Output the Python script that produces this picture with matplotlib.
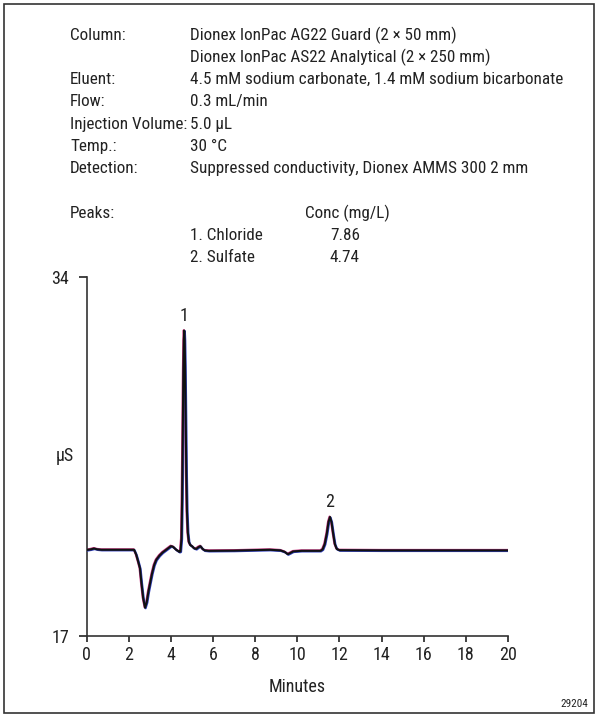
import matplotlib
matplotlib.use('Agg')
import matplotlib.pyplot as plt
import matplotlib.transforms as mtransforms
from matplotlib.patches import Rectangle

plt.rcParams['font.family'] = ['Roboto Condensed', 'DejaVu Sans']

# ===== DATA =====
minutes = [0.0, 0.2, 0.35, 0.5, 0.7, 1.5, 2.25, 2.35, 2.45, 2.53, 2.6, 2.68, 2.77,
           2.85, 2.93, 3.0, 3.1, 3.2, 3.3, 3.45, 3.6, 3.8, 4.0, 4.1, 4.25, 4.4,
           4.45, 4.5, 4.53, 4.56, 4.59, 4.61, 4.63, 4.65, 4.67, 4.7, 4.73, 4.76,
           4.8, 4.85, 4.92, 5.0, 5.1, 5.2, 5.3, 5.4, 5.5, 5.6, 5.8, 7.0, 8.7,
           9.2, 9.4, 9.55, 9.65, 9.8, 10.2, 11.1, 11.2, 11.3, 11.4, 11.48, 11.55,
           11.62, 11.7, 11.78, 11.87, 12.0, 14.0, 17.0, 20.0]
signal = [21.07, 21.1, 21.14, 21.1, 21.08, 21.08, 21.08, 20.85, 20.5, 20.2, 19.5, 18.8, 18.34,
          18.6, 19.1, 19.45, 19.95, 20.35, 20.6, 20.8, 20.95, 21.1, 21.25, 21.22, 21.08, 20.98,
          21.0, 21.6, 23.5, 26.5, 29.6, 31.0, 31.45, 31.0, 29.8, 27.2, 24.6, 22.9,
          21.9, 21.45, 21.3, 21.25, 21.15, 21.12, 21.2, 21.25, 21.12, 21.05, 21.03, 21.04, 21.08,
          21.05, 20.98, 20.87, 20.92, 21.0, 21.03, 21.03, 21.1, 21.35, 21.85, 22.4, 22.63,
          22.4, 21.85, 21.35, 21.12, 21.06, 21.05, 21.05, 21.05]

peak_labels = ['1', '2']
peak_times = [4.63, 11.55]
peak_heights = [31.45, 22.63]

cond_labels = ['Column:', '', 'Eluent:', 'Flow:', 'Injection Volume:', 'Temp.:', 'Detection:']
cond_values = ['Dionex IonPac AG22 Guard (2 \u00d7 50 mm)',
               'Dionex IonPac AS22 Analytical (2 \u00d7 250 mm)',
               '4.5 mM sodium carbonate, 1.4 mM sodium bicarbonate',
               '0.3 mL/min',
               '5.0 \u00b5L',
               '30 \u00b0C',
               'Suppressed conductivity, Dionex AMMS 300 2 mm']
peak_names = ['1. Chloride', '2. Sulfate']
peak_conc = ['7.86', '4.74']

W, H = 598, 717
fig = plt.figure(figsize=(W / 100, H / 100), dpi=100)

# outer frame
fig.patches.append(Rectangle((4 / W, 4 / H), 1 - 8 / W, 1 - 8 / H, transform=fig.transFigure,
                             fill=False, ec='#333333', lw=1.2))

# ===== HEADER TEXT =====
fs = 12.3
tc = '#222222'
x_lab, x_val = 70 / W, 190 / W
row0, dy = 35, 22.3
for i, (lab, val) in enumerate(zip(cond_labels, cond_values)):
    y = 1 - (row0 + i * dy) / H
    fig.text(x_lab, y, lab, fontsize=fs, va='center', color=tc)
    fig.text(x_val, y, val, fontsize=fs, va='center', color=tc)

y_peaks = 1 - (row0 + 8 * dy) / H
fig.text(x_lab, y_peaks, 'Peaks:', fontsize=fs, va='center', color=tc)
fig.text(305 / W, y_peaks, 'Conc (mg/L)', fontsize=fs, va='center', color=tc)
for i, (nm, c) in enumerate(zip(peak_names, peak_conc)):
    y = 1 - (row0 + (9 + i) * dy) / H
    fig.text(x_val, y, nm, fontsize=fs, va='center', color=tc)
    fig.text(330 / W, y, c, fontsize=fs, va='center', color=tc)

# ===== CHROMATOGRAM =====
ax = fig.add_axes([86.7 / W, (H - 636) / H, (508 - 86.7) / W, (636 - 276.7) / H])

off_b = mtransforms.offset_copy(ax.transData, fig=fig, x=0.4, y=-0.4, units='points')
off_m = mtransforms.offset_copy(ax.transData, fig=fig, x=-0.3, y=0.3, units='points')
ax.plot(minutes, signal, color='#c0307a', lw=1.6, transform=off_m, zorder=2)
ax.plot(minutes, signal, color='#3040c0', lw=1.6, transform=off_b, zorder=3)
ax.plot(minutes, signal, color='#111111', lw=1.5, zorder=4)

for lab, t, h in zip(peak_labels, peak_times, peak_heights):
    ax.annotate(lab, (t, h), xytext=(0, 4), textcoords='offset points',
                ha='center', va='bottom', fontsize=13, color=tc)

ax.set_xlim(0, 20)
ax.set_ylim(17, 34)
ax.set_xticks(range(0, 21, 2))
ax.set_yticks([17, 34])
for s in ['top', 'right']:
    ax.spines[s].set_visible(False)
for s in ['left', 'bottom']:
    ax.spines[s].set_color('#333333')
    ax.spines[s].set_linewidth(1.2)
ax.tick_params(axis='x', length=4.3, width=1.2, pad=3, labelsize=13, colors=tc)
ax.tick_params(axis='y', length=5.5, width=1.2, pad=7, labelsize=13, colors=tc)
ax.set_xlabel('Minutes', fontsize=13, color=tc, labelpad=10)
ax.set_ylabel('\u00b5S', fontsize=13, color=tc, rotation=0, ha='center', va='center')
ax.yaxis.set_label_coords(-0.052, 0.5)

fig.text(588 / W, 1 - 704 / H, '29204', fontsize=8, ha='right', va='center', color=tc)

fig.savefig('out.png', dpi=100)
